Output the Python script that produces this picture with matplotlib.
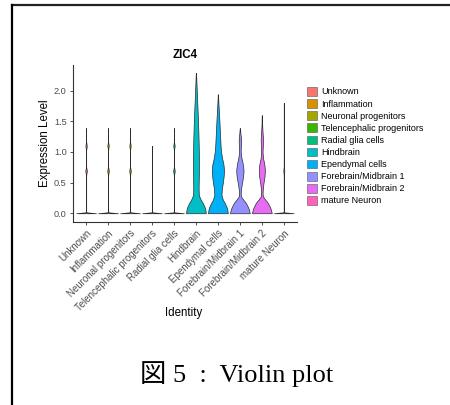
import numpy as np
import matplotlib.pyplot as plt
from matplotlib.patches import Patch
from matplotlib.lines import Line2D

# cluster identities and ggplot hue colours
identities = ['Unknown', 'Inflammation', 'Neuronal progenitors', 'Telencephalic progenitors',
              'Radial glia cells', 'Hindbrain', 'Ependymal cells', 'Forebrain/Midbrain 1',
              'Forebrain/Midbrain 2', 'mature Neuron']
colors = ['#F8766D', '#D89000', '#A3A500', '#39B600', '#00BF7D',
          '#00BFC4', '#00B0F6', '#9590FF', '#E76BF3', '#FF62BC']

# violin outlines: expression level and relative width (scale="width")
thin_y = [0, 0.015, 0.03, 0.62, 0.69, 0.76, 1.03, 1.1, 1.17, 1.39]
thin_w = [1.0, 0.05, 0.01, 0.01, 0.08, 0.01, 0.008, 0.07, 0.006, 0.004]
tel_y = [0, 0.015, 0.03, 1.1]
tel_w = [1.0, 0.05, 0.01, 0.004]
neuron_y = [0, 0.015, 0.03, 0.62, 0.69, 0.76, 1.8]
neuron_w = [1.0, 0.05, 0.01, 0.008, 0.05, 0.008, 0.004]
hind_y = [0, 0.06, 0.1, 0.17, 0.2, 0.25, 0.3, 0.4, 0.5, 0.7, 0.9, 1.1, 1.3, 1.5, 1.7, 1.9, 2.1, 2.29]
hind_w = [1.0, 0.95, 0.88, 0.68, 0.56, 0.4, 0.29, 0.27, 0.28, 0.3, 0.3, 0.28, 0.25, 0.21, 0.16, 0.11, 0.06, 0.01]
epen_y = [0, 0.06, 0.1, 0.17, 0.22, 0.3, 0.4, 0.5, 0.6, 0.7, 0.8, 0.9, 1.0, 1.1, 1.2, 1.4, 1.6, 1.8, 1.94]
epen_w = [1.0, 0.95, 0.88, 0.68, 0.5, 0.36, 0.4, 0.5, 0.58, 0.62, 0.56, 0.42, 0.32, 0.27, 0.24, 0.18, 0.12, 0.05, 0.01]
fm1_y = [0, 0.06, 0.1, 0.17, 0.22, 0.27, 0.32, 0.4, 0.5, 0.6, 0.7, 0.8, 0.9, 1.0, 1.1, 1.2, 1.3, 1.39]
fm1_w = [1.0, 0.92, 0.82, 0.6, 0.35, 0.12, 0.08, 0.12, 0.22, 0.33, 0.37, 0.3, 0.16, 0.08, 0.1, 0.12, 0.06, 0.01]
fm2_y = [0, 0.06, 0.1, 0.17, 0.22, 0.27, 0.32, 0.4, 0.5, 0.6, 0.7, 0.8, 0.9, 1.0, 1.1, 1.2, 1.3, 1.45, 1.6]
fm2_w = [1.0, 0.92, 0.82, 0.6, 0.35, 0.12, 0.07, 0.1, 0.17, 0.27, 0.31, 0.25, 0.12, 0.07, 0.1, 0.12, 0.08, 0.03, 0.01]

profiles = [(thin_y, thin_w), (thin_y, thin_w), (thin_y, thin_w), (tel_y, tel_w), (thin_y, thin_w),
            (hind_y, hind_w), (epen_y, epen_w), (fm1_y, fm1_w), (fm2_y, fm2_w), (neuron_y, neuron_w)]

yticks = [0.0, 0.5, 1.0, 1.5, 2.0]

fig = plt.figure(figsize=(4.5, 4.05), dpi=100)
fig.patch.set_facecolor('white')
plt.rcParams['font.family'] = ['Liberation Sans', 'DejaVu Sans']

ax = fig.add_axes([0.162, 0.452, 0.498, 0.388])
for i, ((ys, ws), c) in enumerate(zip(profiles, colors)):
    ys = np.array(ys)
    ws = np.array(ws) * 0.45
    ax.fill_betweenx(ys, i - ws, i + ws, facecolor=c, edgecolor='#2b2b2b', lw=0.5)

ax.set_xlim(-0.6, len(identities) - 0.4)
ax.set_ylim(-0.142, 2.42)
ax.set_yticks(yticks)
ax.set_yticklabels([f'{v:.1f}' for v in yticks], fontsize=6.6, color='#4d4d4d')
ax.set_xticks(range(len(identities)))
ax.set_xticklabels(identities, rotation=45, ha='right', rotation_mode='anchor',
                   fontsize=7.0, color='#4d4d4d')
ax.tick_params(length=2.5, width=0.6, color='#333333', pad=2)
for s in ['top', 'right']:
    ax.spines[s].set_visible(False)
for s in ['left', 'bottom']:
    ax.spines[s].set_linewidth(0.8)
    ax.spines[s].set_color('#333333')
ax.set_title('ZIC4', fontsize=8.3, fontweight='bold', pad=5)
ax.set_ylabel('Expression Level', fontsize=8.3, labelpad=2)
fig.text(0.407, 0.227, 'Identity', fontsize=8.3, ha='center', va='center')

handles = [Patch(facecolor=c, edgecolor='#555555', lw=0.4) for c in colors]
fig.legend(handles, identities, loc='upper left', bbox_to_anchor=(0.682, 0.785),
           frameon=False, fontsize=6.5, handlelength=1.1, handleheight=1.1,
           handletextpad=0.5, labelspacing=0.3, borderaxespad=0, borderpad=0)

# page frame and caption
fig.add_artist(Line2D([0.026, 1.0], [0.988, 0.988], color='#222222', lw=1.6))
fig.add_artist(Line2D([0.027, 0.027], [0.0, 0.988], color='black', lw=1.6))
fig.text(0.526, 0.077, '図 5  :  Violin plot', fontsize=19, ha='center', va='center',
         family=['Liberation Serif', 'Noto Sans CJK JP'])

fig.savefig('out.png', dpi=100)
